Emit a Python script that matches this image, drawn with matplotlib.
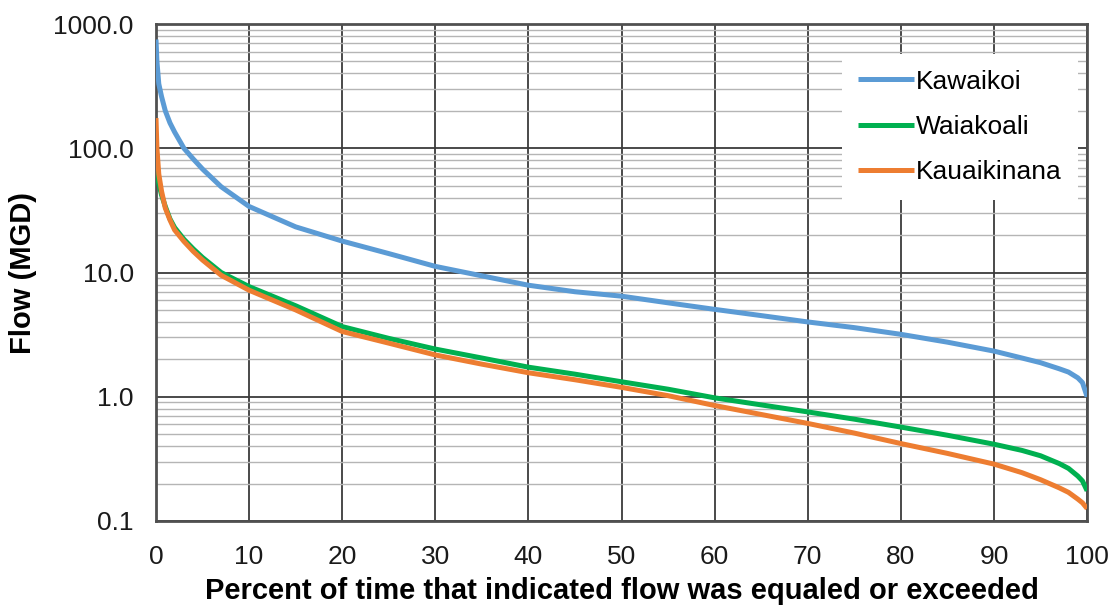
import matplotlib
matplotlib.use("Agg")
import matplotlib.pyplot as plt
from matplotlib.ticker import FixedLocator, LogLocator, NullFormatter

pct = [0, 0.1, 0.3, 0.6, 1, 1.5, 2, 3, 4, 5, 7, 10, 15, 20, 25, 30, 35, 40, 45,
       50, 55, 60, 65, 70, 75, 80, 85, 90, 93, 95, 97, 98, 99, 99.5, 100]

kawaikoi = [750, 500, 330, 260, 200, 160, 135, 100, 82, 68, 49, 34, 23.3, 17.9, 14.2,
            11.2, 9.4, 7.9, 7.0, 6.45, 5.7, 5.05, 4.5, 4.0, 3.6, 3.18, 2.75, 2.33,
            2.05, 1.88, 1.68, 1.58, 1.42, 1.3, 1.0]

waiakoali = [85, 65, 52, 42, 34, 27, 23, 18.5, 15.5, 13.2, 10, 7.7, 5.4, 3.67, 2.95,
             2.42, 2.05, 1.73, 1.52, 1.32, 1.15, 0.98, 0.86, 0.755, 0.66, 0.57, 0.49,
             0.415, 0.37, 0.335, 0.29, 0.265, 0.23, 0.21, 0.175]

kauaikinana = [175, 100, 62, 45, 33, 26.5, 22, 17.8, 14.8, 12.6, 9.5, 7.2, 5.0, 3.35,
               2.7, 2.17, 1.83, 1.56, 1.37, 1.19, 1.02, 0.85, 0.72, 0.61, 0.51, 0.42,
               0.35, 0.287, 0.245, 0.215, 0.185, 0.17, 0.15, 0.14, 0.126]

series_names = ["Kawaikoi", "Waiakoali", "Kauaikinana"]
colors = ["#5B9BD5", "#00B050", "#ED7D31"]

y_ticks = [0.1, 1, 10, 100, 1000]
y_tick_labels = ["0.1", "1.0", "10.0", "100.0", "1000.0"]
x_ticks = list(range(0, 101, 10))

plt.rcParams['font.family'] = ['Liberation Sans', 'DejaVu Sans']

fig = plt.figure(figsize=(11.15, 6.11), dpi=100)
ax = fig.add_axes([0.1399, 0.1473, 0.975 - 0.1399, 0.9607 - 0.1473])

for name, vals, c in zip(series_names, [kawaikoi, waiakoali, kauaikinana], colors):
    ax.plot(pct, vals, color=c, lw=3.6, label=name, solid_capstyle='butt', zorder=3)

ax.set_yscale('log')
ax.set_ylim(0.1, 1000)
ax.set_xlim(0, 100)

ax.yaxis.set_major_locator(FixedLocator(y_ticks))
ax.set_yticklabels(y_tick_labels)
ax.yaxis.set_minor_locator(LogLocator(base=10, subs=range(2, 10)))
ax.yaxis.set_minor_formatter(NullFormatter())
ax.set_xticks(x_ticks)

ax.grid(True, which='major', axis='both', color='#3a3a3a', lw=1.3, zorder=1)
ax.grid(True, which='minor', axis='y', color='#b5b5b5', lw=1.0, zorder=0)

ax.tick_params(axis='both', which='both', length=0, labelsize=19, colors='#1a1a1a')
ax.tick_params(axis='x', pad=17)
ax.tick_params(axis='y', pad=16)

for s in ax.spines.values():
    s.set_color('#505050')
    s.set_linewidth(2)

ax.set_xlabel("Percent of time that indicated flow was equaled or exceeded",
              fontsize=21, fontweight='bold', labelpad=6)
ax.set_ylabel("Flow (MGD)", fontsize=21, fontweight='bold')
ax.yaxis.set_label_coords(-0.128, 0.5)

leg = ax.legend(loc='upper right', bbox_to_anchor=(0.99, 0.94), fontsize=19,
                frameon=True, fancybox=False, edgecolor='none', facecolor='white',
                framealpha=1, handlelength=2.1, handletextpad=0.1,
                labelspacing=0.8, borderaxespad=0, borderpad=0.6)
leg.set_zorder(5)

fig.savefig("out.png", dpi=100)
